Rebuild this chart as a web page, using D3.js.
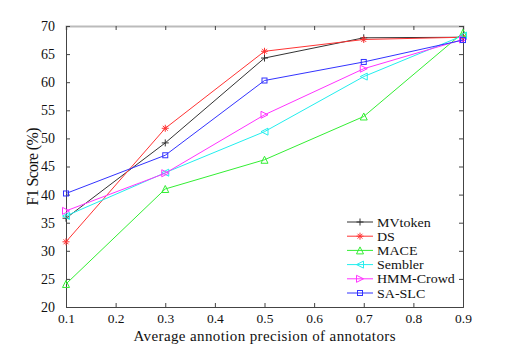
<!DOCTYPE html>
<html lang="en">
<head>
<meta charset="utf-8">
<title>F1 Score chart</title>
<script src="https://d3js.org/d3.v7.min.js"></script>
<style>
  body { margin: 0; background: #fff; }
  text { font-family: "Liberation Serif", "Times New Roman", serif; }
</style>
</head>
<body>
<script>
// data
var precision = [0.1, 0.3, 0.5, 0.7, 0.9];
var mvtoken  = [35.8, 49.2, 64.3, 67.9, 68.0];
var ds       = [31.6, 51.8, 65.5, 67.6, 68.0];
var mace     = [24.1, 41.0, 46.2, 53.9, 68.8];
var sembler  = [36.2, 43.9, 51.2, 61.0, 68.3];
var hmmCrowd = [37.1, 43.8, 54.2, 62.4, 67.6];
var saSlc    = [40.2, 47.0, 60.3, 63.6, 67.5];
var xTicks = [0.1, 0.2, 0.3, 0.4, 0.5, 0.6, 0.7, 0.8, 0.9];
var yTicks = [20, 25, 30, 35, 40, 45, 50, 55, 60, 65, 70];

var series = [
  {name: "MVtoken",   values: mvtoken,  color: "#333333", marker: "plus"},
  {name: "DS",        values: ds,       color: "#ff3333", marker: "star"},
  {name: "MACE",      values: mace,     color: "#33ee33", marker: "triUp"},
  {name: "Sembler",   values: sembler,  color: "#22eeee", marker: "triLeft"},
  {name: "HMM-Crowd", values: hmmCrowd, color: "#ff33ff", marker: "triRight"},
  {name: "SA-SLC",    values: saSlc,    color: "#3333ff", marker: "square"}
];

var width = 512, height = 346;
var margin = {top: 26, right: 49, bottom: 39, left: 66};

var svg = d3.select("body").append("svg")
    .attr("width", width)
    .attr("height", height);

var x = d3.scaleLinear().domain([0.1, 0.9]).range([margin.left, width - margin.right]);
var y = d3.scaleLinear().domain([20, 70]).range([height - margin.bottom, margin.top]);

// axes (ticks pointing inward, matlab style)
var axisColor = "#444";
var gx = svg.append("g")
    .attr("transform", "translate(0," + y(20) + ")")
    .call(d3.axisBottom(x).tickValues(xTicks).tickSize(-4).tickPadding(6).tickFormat(d3.format(".1f")));
var gxTop = svg.append("g")
    .attr("transform", "translate(0," + y(70) + ")")
    .call(d3.axisTop(x).tickValues(xTicks).tickSize(-4).tickFormat(""));
var gy = svg.append("g")
    .attr("transform", "translate(" + x(0.1) + ",0)")
    .call(d3.axisLeft(y).tickValues(yTicks).tickSize(-4).tickPadding(11));
var gyRight = svg.append("g")
    .attr("transform", "translate(" + x(0.9) + ",0)")
    .call(d3.axisRight(y).tickValues(yTicks).tickSize(-4).tickFormat(""));

[gx, gxTop, gy, gyRight].forEach(function(g) {
  g.select(".domain").attr("stroke", axisColor).attr("stroke-width", 1);
  g.selectAll(".tick line").attr("stroke", axisColor);
  g.selectAll(".tick text")
    .attr("fill", "#111")
    .style("font-family", "Liberation Serif, serif")
    .style("font-size", "14px");
});
gx.selectAll(".tick text").style("font-size", "13.5px");
gxTop.select(".domain").attr("stroke", "#bbb").attr("stroke-width", 2);

// axis titles
svg.append("text")
    .attr("x", (x(0.1) + x(0.9)) / 2)
    .attr("y", 341)
    .attr("text-anchor", "middle")
    .attr("font-size", "15px")
    .attr("textLength", 262)
    .attr("lengthAdjust", "spacing")
    .attr("fill", "#111")
    .text("Average annotion precision of annotators");

svg.append("text")
    .attr("transform", "translate(38," + (y(20) + y(70)) / 2 + ") rotate(-90)")
    .attr("text-anchor", "middle")
    .attr("font-size", "16px")
    .attr("textLength", 78)
    .attr("lengthAdjust", "spacing")
    .attr("fill", "#111")
    .text("F1 Score (%)");

// marker drawing
function drawMarker(g, type, color) {
  var s = 3.5;
  if (type === "plus") {
    g.append("path").attr("d", "M" + (-s) + ",0H" + s + "M0," + (-s) + "V" + s)
      .attr("stroke", color).attr("fill", "none");
  } else if (type === "star") {
    g.append("path").attr("d",
      "M" + (-s) + ",0H" + s + "M0," + (-s) + "V" + s +
      "M" + (-s * 0.7) + "," + (-s * 0.7) + "L" + (s * 0.7) + "," + (s * 0.7) +
      "M" + (-s * 0.7) + "," + (s * 0.7) + "L" + (s * 0.7) + "," + (-s * 0.7))
      .attr("stroke", color).attr("fill", "none");
  } else if (type === "triUp") {
    g.append("path").attr("d", "M0," + (-s) + "L" + s + "," + s + "L" + (-s) + "," + s + "Z")
      .attr("stroke", color).attr("fill", "none");
  } else if (type === "triLeft") {
    g.append("path").attr("d", "M" + (-s) + ",0L" + s + "," + (-s) + "L" + s + "," + s + "Z")
      .attr("stroke", color).attr("fill", "none");
  } else if (type === "triRight") {
    g.append("path").attr("d", "M" + s + ",0L" + (-s) + "," + (-s) + "L" + (-s) + "," + s + "Z")
      .attr("stroke", color).attr("fill", "none");
  } else if (type === "square") {
    g.append("rect").attr("x", -2.5).attr("y", -2.5).attr("width", 5).attr("height", 5)
      .attr("stroke", color).attr("fill", "none");
  }
}

var line = d3.line()
    .x(function(d, i) { return x(precision[i]); })
    .y(function(d) { return y(d); });

series.forEach(function(s) {
  svg.append("path")
      .datum(s.values)
      .attr("d", line)
      .attr("fill", "none")
      .attr("stroke", s.color)
      .attr("stroke-width", 1);
  s.values.forEach(function(v, i) {
    var g = svg.append("g").attr("transform", "translate(" + x(precision[i]) + "," + y(v) + ")");
    drawMarker(g, s.marker, s.color);
  });
});

// legend
var legend = svg.append("g").attr("transform", "translate(347,222)");
series.forEach(function(s, i) {
  var row = legend.append("g").attr("transform", "translate(0," + (i * 14.2) + ")");
  row.append("line").attr("x1", 0).attr("x2", 26).attr("y1", 0).attr("y2", 0)
      .attr("stroke", s.color);
  var m = row.append("g").attr("transform", "translate(13,0)");
  drawMarker(m, s.marker, s.color);
  var t = row.append("text")
      .attr("x", 30)
      .attr("y", 4.5)
      .attr("font-size", "12.5px")
      .attr("fill", "#111")
      .text(s.name);
  // times in the original is wider than the font we have, stretch a little
  t.attr("textLength", t.node().getComputedTextLength() * 1.12)
   .attr("lengthAdjust", "spacingAndGlyphs");
});
</script>
</body>
</html>
